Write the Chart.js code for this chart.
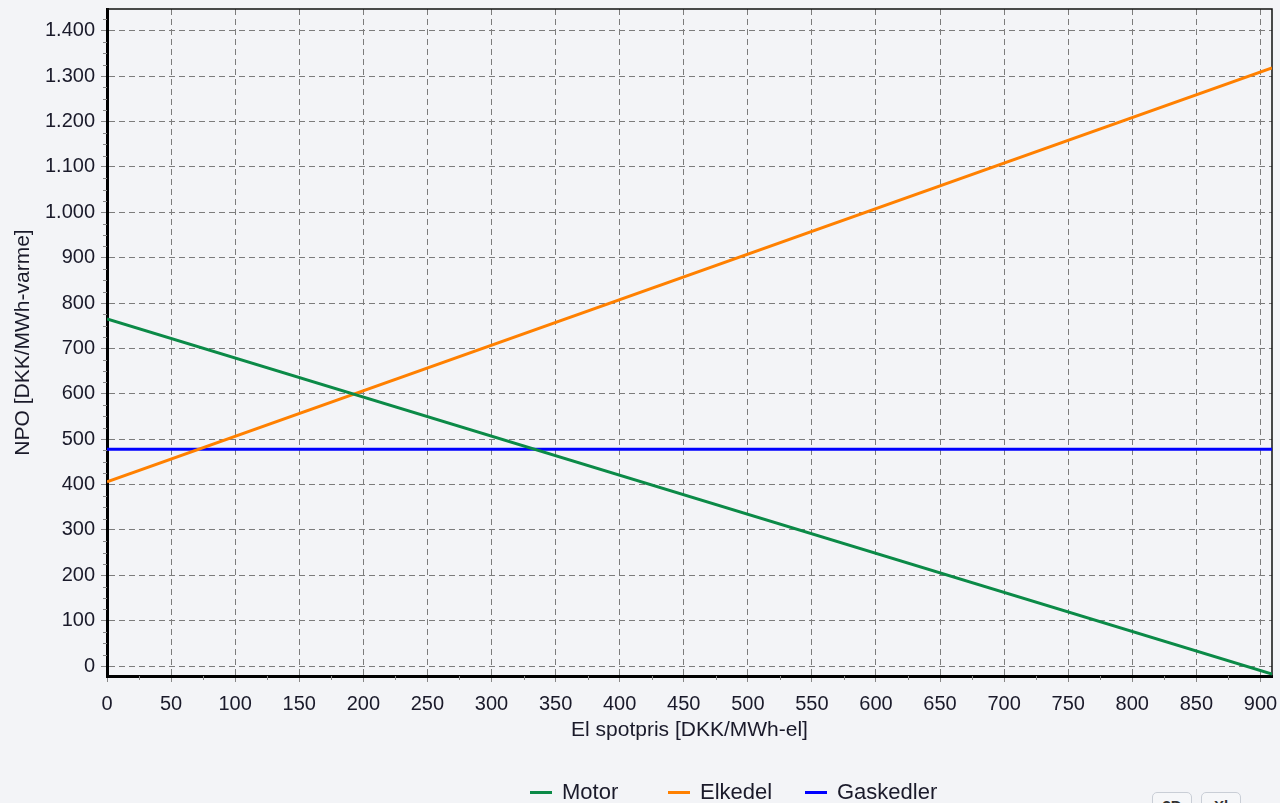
<!DOCTYPE html>
<html>
<head>
<meta charset="utf-8">
<script src="https://cdn.jsdelivr.net/npm/chart.js@4/dist/chart.umd.min.js"></script>
<style>
  html, body { margin: 0; padding: 0; background: #f3f4f7; }
  body { width: 1280px; height: 803px; position: relative; overflow: hidden; font-family: "Liberation Sans", Arial, sans-serif; }
  #wrap { position: absolute; left: 0; top: 0; width: 1280px; height: 803px; }
  .leg { position: absolute; top: 779px; font-size: 22px; color: #1a1a2a; white-space: nowrap; }
  .leg i { position: absolute; top: 12px; width: 22px; height: 3px; }
  .leg span { position: absolute; left: 32px; top: 0; }
  .btn { position: absolute; top: 792px; width: 38px; height: 26px; border: 1px solid #c9ced6; border-radius: 5px; background: #f6f7f9; font-size: 15px; font-weight: bold; color: #333; text-align: center; line-height: 26px; }
</style>
</head>
<body>
<div id="wrap"><canvas id="chart" width="1280" height="803"></canvas></div>
<div class="leg" style="left:530px"><i style="background:#0b8a47"></i><span>Motor</span></div>
<div class="leg" style="left:668px"><i style="background:#ff8000"></i><span>Elkedel</span></div>
<div class="leg" style="left:805px"><i style="background:#0000ff"></i><span>Gaskedler</span></div>
<div class="btn" style="left:1152px">3D</div>
<div class="btn" style="left:1201px">Xl</div>
<script>
// el spotpris (x) and NPO values
const spotpris = [0, 909];
const motor = [765, -18];
const elkedel = [406, 1318];
const gaskedler = [478, 478];

const xTicks = [0, 50, 100, 150, 200, 250, 300, 350, 400, 450, 500, 550, 600, 650, 700, 750, 800, 850, 900];
const yTicks = [0, 100, 200, 300, 400, 500, 600, 700, 800, 900, 1000, 1100, 1200, 1300, 1400];

const toPts = (ys) => spotpris.map((x, i) => ({ x: x, y: ys[i] }));

// thousands separator like "1.400"
const fmt = (v) => String(v).replace(/\B(?=(\d{3})+(?!\d))/g, ".");

const frameAndMinor = {
  id: "frameAndMinor",
  beforeDatasetsDraw(chart) {
    const ctx = chart.ctx;
    const a = chart.chartArea;
    const xs = chart.scales.x, ys = chart.scales.y;
    ctx.save();
    ctx.strokeStyle = "#888";
    ctx.lineWidth = 1;
    ctx.beginPath();
    for (let v = 25; v <= xs.max; v += 50) {
      const px = Math.round(xs.getPixelForValue(v)) + 0.5;
      ctx.moveTo(px, a.bottom);
      ctx.lineTo(px, a.bottom + 4);
    }
    for (let v = 0; v <= ys.max; v += 25) {
      if (v % 100 === 0) continue;
      const py = Math.round(ys.getPixelForValue(v)) + 0.5;
      ctx.moveTo(a.left - 4, py);
      ctx.lineTo(a.left, py);
    }
    ctx.stroke();
    ctx.strokeStyle = "#111";
    ctx.lineWidth = 1.5;
    ctx.beginPath();
    ctx.moveTo(a.left, a.top);
    ctx.lineTo(a.right, a.top);
    ctx.lineTo(a.right, a.bottom);
    ctx.stroke();
    ctx.restore();
  }
};

new Chart(document.getElementById("chart"), {
  type: "line",
  data: {
    datasets: [
      { label: "Motor", data: toPts(motor), borderColor: "#0b8a47" },
      { label: "Elkedel", data: toPts(elkedel), borderColor: "#ff8000" },
      { label: "Gaskedler", data: toPts(gaskedler), borderColor: "#0000ff" }
    ]
  },
  options: {
    responsive: false,
    animation: false,
    parsing: false,
    elements: {
      line: { borderWidth: 3, tension: 0 },
      point: { radius: 0 }
    },
    layout: { padding: { top: 9, right: 8, bottom: 60, left: 0 } },
    plugins: {
      legend: { display: false },
      tooltip: { enabled: false }
    },
    scales: {
      x: {
        type: "linear",
        min: 0,
        max: 909,
        afterBuildTicks: (s) => { s.ticks = xTicks.map((v) => ({ value: v })); },
        afterFit: (s) => { s.height = 67; s.paddingLeft = 0; s.paddingRight = 0; },
        ticks: {
          color: "#1a1a2a",
          font: { family: "Liberation Sans", size: 20 },
          padding: 10,
          maxRotation: 0,
          autoSkip: false,
          callback: (v) => fmt(v)
        },
        grid: { color: "#7c7c7c", lineWidth: 1, tickLength: 6, tickColor: "#888", tickBorderDash: [] },
        border: { color: "#000", width: 3, dash: [6, 4] },
        title: {
          display: true,
          text: "El spotpris [DKK/MWh-el]",
          color: "#1a1a2a",
          font: { family: "Liberation Sans", size: 21 },
          padding: { top: 0, bottom: 0 }
        }
      },
      y: {
        type: "linear",
        min: -22,
        max: 1448,
        afterBuildTicks: (s) => { s.ticks = yTicks.map((v) => ({ value: v })); },
        afterFit: (s) => { s.width = 107; s.paddingTop = 0; s.paddingBottom = 0; },
        ticks: {
          color: "#1a1a2a",
          font: { family: "Liberation Sans", size: 20 },
          padding: 6,
          autoSkip: false,
          callback: (v) => fmt(v)
        },
        grid: { color: "#7c7c7c", lineWidth: 1, tickLength: 6, tickColor: "#888", tickBorderDash: [] },
        border: { color: "#000", width: 3, dash: [6, 4] },
        title: {
          display: true,
          text: "NPO [DKK/MWh-varme]",
          color: "#1a1a2a",
          font: { family: "Liberation Sans", size: 21 },
          padding: { top: 11, bottom: 0 }
        }
      }
    }
  },
  plugins: [frameAndMinor]
});
</script>
</body>
</html>
